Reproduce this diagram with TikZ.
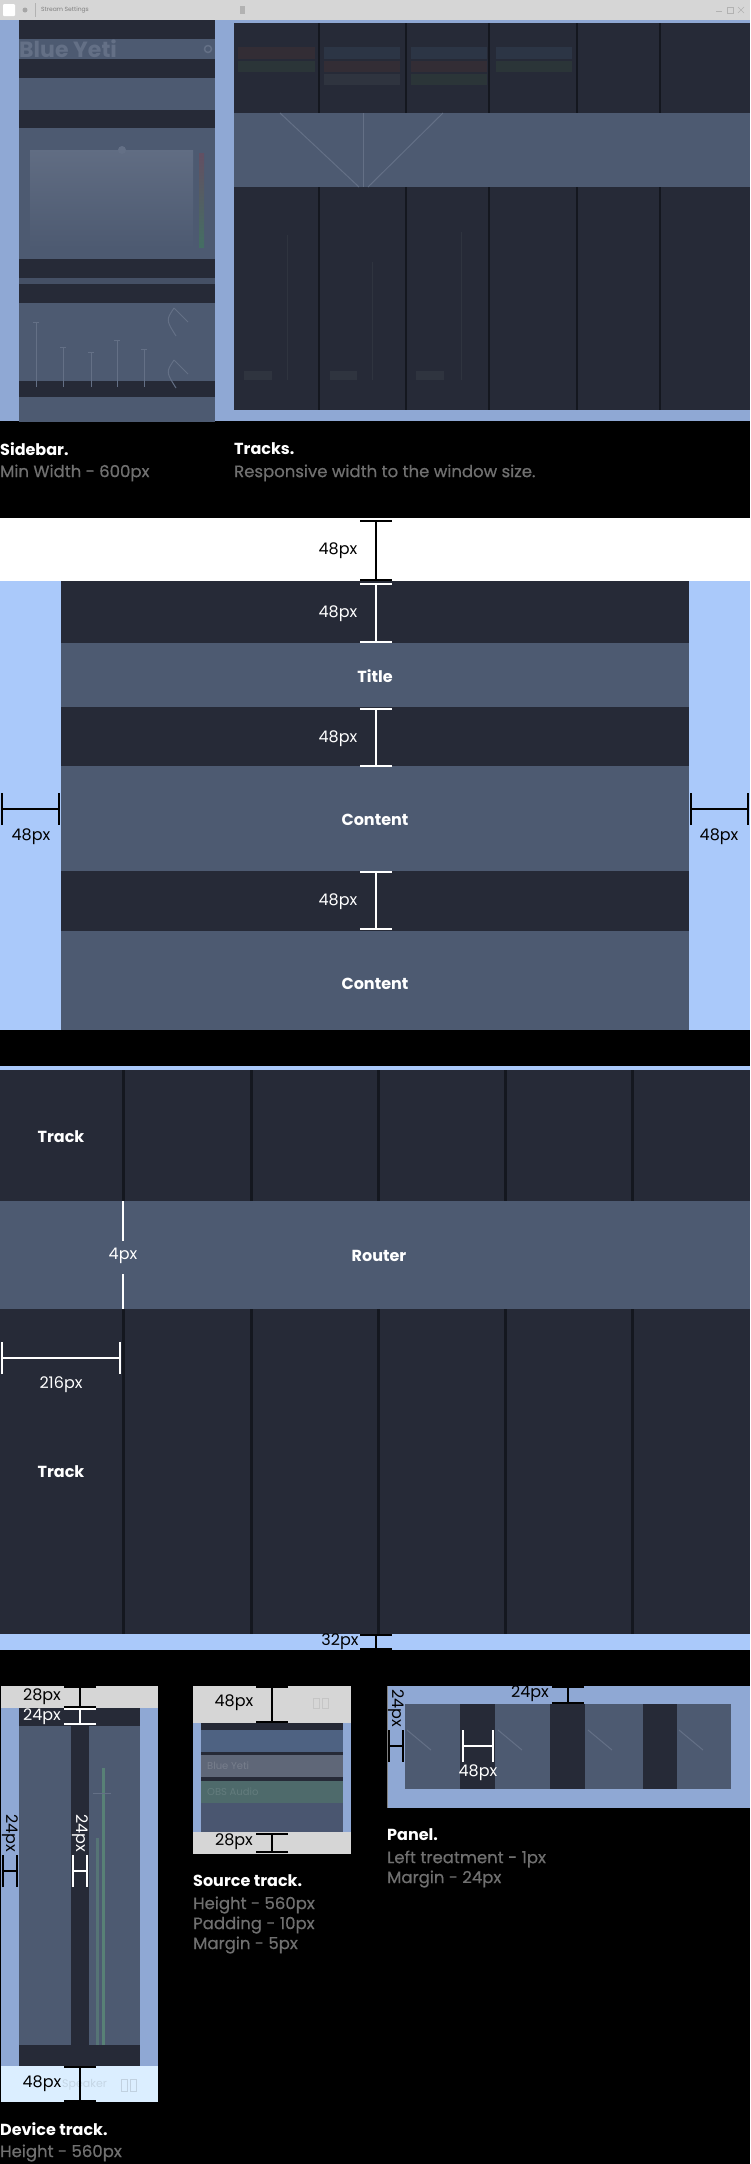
\documentclass[tikz,border=0pt]{standalone}
\usepackage{fontspec}
\setmainfont{Poppins}
\newfontfamily\capfont[FakeBold=0.6]{Poppins}
\usetikzlibrary{arrows.meta,positioning}

\definecolor{trackdark}{HTML}{262A37}
\definecolor{trackmid}{HTML}{4D5A71}
\definecolor{winblue}{HTML}{8FA8D4}
\definecolor{lightblue}{HTML}{AAC9FA}
\definecolor{titlegray}{HTML}{D6D6D6}
\definecolor{capgray}{HTML}{707070}
\definecolor{sepline}{HTML}{14171F}
\definecolor{palebottom}{HTML}{DBEEFF}
\definecolor{faintline}{HTML}{647086}
\definecolor{barred}{HTML}{332D35}
\definecolor{bargreen}{HTML}{2B3538}
\definecolor{barblue}{HTML}{2C3545}
\definecolor{bargray}{HTML}{2F343F}
\definecolor{rowblue}{HTML}{4E6282}
\definecolor{rowgray}{HTML}{5F6778}
\definecolor{rowgreen}{HTML}{4E6A6B}
\definecolor{rowbase}{HTML}{4A5670}

\tikzset{
  dimblack/.style={draw=black, line width=2pt, {Bar[width=32pt]}-{Bar[width=32pt]}},
  dimwhite/.style={dimblack, draw=white},
  dimtext/.style={font=\fontsize{16}{16}\selectfont, inner sep=0pt},
  boxlabel/.style={font=\fontsize{16}{16}\selectfont\bfseries, text=white, inner sep=0pt},
  headtext/.style={font=\fontsize{16}{16}\selectfont\bfseries, text=white, anchor=west, inner sep=0pt},
  captext/.style={font=\capfont\fontsize{16.5}{16.5}\selectfont, text=capgray, anchor=west, inner sep=0pt},
  faint/.style={draw=faintline, line width=1pt},
}

\begin{document}
\begin{tikzpicture}[x=1pt,y=-1pt]

   \fill[black] (0,0) rectangle (750,2164);
   \useasboundingbox (0,0) rectangle (750,2164);

   % window title bar
   \fill[titlegray] (0,0) rectangle (750,20);
   \fill[white, rounded corners=1pt] (3,4) rectangle (15,16);
   \fill[gray!70] (25,10) circle (2.5);
   \draw[gray!60, line width=0.6pt] (35,3) -- (35,17);
   \node[font=\fontsize{6}{6}\selectfont, text=gray, anchor=west, inner sep=0pt] (wintitle) at (41,10) {Stream Settings};
   \fill[gray!60] (240,6) rectangle (245,14);
   \draw[gray!60, line width=0.6pt] (716,11) -- (722,11);
   \draw[gray!60, line width=0.6pt] (727,7) rectangle (733,13);
   \draw[gray!60, line width=0.6pt] (738,7) -- (744,13) (738,13) -- (744,7);
   \fill[winblue] (0,20) rectangle (750,421);

   % sidebar
   \fill[trackdark] (19,20) rectangle (215,39);
   \fill[trackmid] (19,39) rectangle (215,59);
   \fill[trackdark] (19,59) rectangle (215,78);
   \fill[trackmid] (19,78) rectangle (215,110);
   \fill[trackdark] (19,110) rectangle (215,128);
   \fill[trackmid] (19,128) rectangle (215,259);
   \fill[trackdark] (19,259) rectangle (215,278);
   \fill[trackmid!80!trackdark] (19,278) rectangle (215,284);
   \fill[trackdark] (19,284) rectangle (215,303);
   \fill[trackmid] (19,303) rectangle (215,381);
   \fill[trackdark] (19,381) rectangle (215,397);
   \fill[trackmid] (19,397) rectangle (215,422);
   \node[font=\fontsize{22}{22}\selectfont\bfseries, text=faintline, anchor=west, inner sep=0pt] (devname) at (19,49) {Blue Yeti};
   \draw[faintline, line width=1.5pt] (208,49) circle (3.5);
   \shade[top color=faintline!85!trackmid, bottom color=trackmid] (30,150) rectangle (193,248);
   \shade[top color=red!12!trackmid, middle color=blue!12!trackmid, bottom color=green!12!trackmid] (199,153) rectangle (204,247);
   \fill[faintline] (122,150) circle (4);
   \draw[faint] (36,322) -- (36,387) (33,322) -- (39,322);
   \draw[faint] (63,347) -- (63,387) (60,347) -- (66,347);
   \draw[faint] (91,352) -- (91,387) (88,352) -- (94,352);
   \draw[faint] (117,340) -- (117,387) (114,340) -- (120,340);
   \draw[faint] (144,349) -- (144,387) (141,349) -- (147,349);
   \draw[faint] (174,308) .. controls (166,320) .. (176,336);
   \draw[faint] (174,308) -- (188,322);
   \draw[faint] (174,360) .. controls (166,372) .. (176,388);
   \draw[faint] (174,360) -- (188,374);

   % tracks in the window
   \fill[trackdark] (234,23) rectangle (750,113);
   \fill[trackmid] (234,113) rectangle (750,187);
   \fill[trackdark] (234,187) rectangle (750,410);
   \foreach \x in {319,406,489,577,660} {
     \draw[sepline, line width=1.5pt] (\x,23) -- (\x,113);
     \draw[sepline, line width=1.5pt] (\x,187) -- (\x,410);
   }
   \fill[barred] (238,47) rectangle (315,59);
   \fill[bargreen] (238,61) rectangle (315,72);
   \fill[barblue] (324,47) rectangle (400,59);
   \fill[barred] (324,61) rectangle (400,72);
   \fill[bargray] (324,74) rectangle (400,85);
   \fill[barblue] (411,47) rectangle (487,59);
   \fill[barred] (411,61) rectangle (487,72);
   \fill[bargreen] (411,74) rectangle (487,85);
   \fill[barblue] (496,47) rectangle (572,59);
   \fill[bargreen] (496,61) rectangle (572,72);
   \draw[faint] (280,113) -- (359,187);
   \draw[faint] (363,113) -- (363,187);
   \draw[faint] (443,113) -- (368,187);
   \draw[bargray, line width=1pt] (287,235) -- (287,380);
   \draw[bargray, line width=1pt] (372,262) -- (372,380);
   \draw[bargray, line width=1pt] (461,232) -- (461,380);
   \fill[bargray] (244,371) rectangle (272,380);
   \fill[bargray] (330,371) rectangle (357,380);
   \fill[bargray] (416,371) rectangle (444,380);

   \node[headtext] (sidebarhead) at (0,449) {Sidebar.};
   \node[captext] (sidebarcap) at (0,473) {Min Width - 600px};
   \node[headtext] (trackshead) at (234,449) {Tracks.};
   \node[captext] (trackscap) at (234,473) {Responsive width to the window size.};

   % panel layout
   \fill[white] (0,518) rectangle (750,581);
   \fill[lightblue] (0,581) rectangle (750,1030);
   \fill[trackdark] (61,581) rectangle (689,643);
   \fill[trackmid] (61,643) rectangle (689,707);
   \fill[trackdark] (61,707) rectangle (689,766);
   \fill[trackmid] (61,766) rectangle (689,871);
   \fill[trackdark] (61,871) rectangle (689,931);
   \fill[trackmid] (61,931) rectangle (689,1030);
   \node[boxlabel] (title) at (375,676) {Title};
   \node[boxlabel] (contentA) at (375,820) {Content};
   \node[boxlabel] (contentB) at (375,984) {Content};

   \coordinate (gapAtop) at (376,520);
   \coordinate (gapAbot) at (376,581);
   \draw[dimblack] (gapAtop) -- (gapAbot);
   \node[dimtext, text=black] (gapAlbl) at (338,551) {48px};
   \coordinate (gapBtop) at (376,583);
   \coordinate (gapBbot) at (376,643);
   \draw[dimwhite] (gapBtop) -- (gapBbot);
   \node[dimtext, text=white] (gapBlbl) at (338,614) {48px};
   \coordinate (gapCtop) at (376,708);
   \coordinate (gapCbot) at (376,767);
   \draw[dimwhite] (gapCtop) -- (gapCbot);
   \node[dimtext, text=white] (gapClbl) at (338,739) {48px};
   \coordinate (gapDtop) at (376,871);
   \coordinate (gapDbot) at (376,930);
   \draw[dimwhite] (gapDtop) -- (gapDbot);
   \node[dimtext, text=white] (gapDlbl) at (338,902) {48px};
   \coordinate (sideLa) at (1,809);
   \coordinate (sideLb) at (60,809);
   \draw[dimblack] (sideLa) -- (sideLb);
   \node[dimtext, text=black] (sideLlbl) at (31,837) {48px};
   \coordinate (sideRa) at (690,809);
   \coordinate (sideRb) at (749,809);
   \draw[dimblack] (sideRa) -- (sideRb);
   \node[dimtext, text=black] (sideRlbl) at (719,837) {48px};

   % track grid
   \fill[lightblue] (0,1066) rectangle (750,1070);
   \fill[trackdark] (0,1070) rectangle (750,1201);
   \fill[trackmid] (0,1201) rectangle (750,1309);
   \fill[trackdark] (0,1309) rectangle (750,1634);
   \foreach \x in {123,251,378,505,632} {
     \draw[sepline, line width=3pt] (\x,1070) -- (\x,1201);
     \draw[sepline, line width=3pt] (\x,1309) -- (\x,1634);
   }
   \fill[lightblue] (0,1634) rectangle (750,1650);
   \node[boxlabel] (trackA) at (61,1137) {Track};
   \node[boxlabel] (router) at (379,1256) {Router};
   \node[boxlabel] (trackB) at (61,1472) {Track};

   \node[dimtext, text=white] (gutterlbl) at (123,1256) {4px};
   \coordinate (guttertop) at (123,1201);
   \coordinate (gutterbot) at (123,1309);
   \draw[white, line width=2pt] (guttertop) -- (123,1241);
   \draw[white, line width=2pt] (123,1274) -- (gutterbot);
   \coordinate (widthA) at (1,1358);
   \coordinate (widthB) at (121,1358);
   \draw[dimwhite] (widthA) -- (widthB);
   \node[dimtext, text=white] (widthlbl) at (61,1385) {216px};
   \coordinate (bottomA) at (376,1634);
   \coordinate (bottomB) at (376,1650);
   \draw[dimblack] (bottomA) -- (bottomB);
   \node[dimtext, text=black] (bottomlbl) at (340,1642) {32px};

   % device track
   \fill[titlegray] (1,1686) rectangle (158,1708);
   \fill[winblue] (1,1708) rectangle (158,2066);
   \fill[trackmid] (19,1708) rectangle (140,2066);
   \fill[trackdark] (19,1708) rectangle (140,1726);
   \fill[trackdark] (19,2045) rectangle (140,2066);
   \fill[trackdark] (71,1708) rectangle (89,2066);
   \draw[green!12!faintline, line width=3pt] (103,1768) -- (103,2045);
   \draw[green!10!faintline!70!trackmid, line width=3pt] (97,1838) -- (97,2045);
   \draw[faint] (93,1793) -- (111,1793);
   \fill[palebottom] (1,2066) rectangle (158,2102);
   \node[font=\fontsize{11}{11}\selectfont, text=palebottom!90!black, anchor=west, inner sep=0pt] (devspeaker) at (62,2085) {Speaker};
   \draw[palebottom!88!black, line width=0.8pt] (121,2079) rectangle (127,2091);
   \draw[palebottom!88!black, line width=0.8pt] (130,2079) rectangle (136,2091);

   \coordinate (devtopA) at (80,1686);
   \coordinate (devtopB) at (80,1708);
   \draw[dimblack] (devtopA) -- (devtopB);
   \node[dimtext, text=black] (devtoplbl) at (42,1697) {28px};
   \coordinate (devheadA) at (80,1708);
   \coordinate (devheadB) at (80,1725);
   \draw[dimwhite] (devheadA) -- (devheadB);
   \node[dimtext, text=white] (devheadlbl) at (42,1717) {24px};
   \coordinate (devsideA) at (2,1871);
   \coordinate (devsideB) at (18,1871);
   \draw[dimblack] (devsideA) -- (devsideB);
   \node[dimtext, text=black, rotate=-90] (devsidelbl) at (10,1833) {24px};
   \coordinate (devgapA) at (72,1871);
   \coordinate (devgapB) at (88,1871);
   \draw[dimwhite] (devgapA) -- (devgapB);
   \node[dimtext, text=white, rotate=-90] (devgaplbl) at (80,1833) {24px};
   \coordinate (devbotA) at (80,2066);
   \coordinate (devbotB) at (80,2102);
   \draw[dimblack] (devbotA) -- (devbotB);
   \node[dimtext, text=black] (devbotlbl) at (42,2084) {48px};

   \node[headtext] (devicehead) at (0,2129) {Device track.};
   \node[captext] (devicecap) at (0,2153) {Height - 560px};

   % source track
   \fill[titlegray] (193,1686) rectangle (351,1723);
   \fill[winblue] (193,1723) rectangle (351,1832);
   \fill[titlegray] (193,1832) rectangle (351,1854);
   \fill[trackdark] (201,1723) rectangle (343,1803);
   \fill[rowblue] (201,1730) rectangle (343,1752);
   \fill[rowgray] (201,1755) rectangle (343,1777);
   \fill[rowgreen] (201,1781) rectangle (343,1803);
   \fill[rowbase] (201,1803) rectangle (343,1832);
   \node[font=\fontsize{10}{10}\selectfont, text=rowgray!85!white, anchor=west, inner sep=0pt] (srcB) at (207,1766) {Blue Yeti};
   \node[font=\fontsize{10}{10}\selectfont, text=rowgreen!88!white, anchor=west, inner sep=0pt] (srcC) at (207,1792) {OBS Audio};
   \draw[titlegray!92!black, line width=0.8pt] (313,1698) rectangle (319,1708);
   \draw[titlegray!92!black, line width=0.8pt] (322,1698) rectangle (328,1708);

   \coordinate (srctopA) at (272,1686);
   \coordinate (srctopB) at (272,1723);
   \draw[dimblack] (srctopA) -- (srctopB);
   \node[dimtext, text=black] (srctoplbl) at (234,1703) {48px};
   \coordinate (srcbotA) at (272,1833);
   \coordinate (srcbotB) at (272,1853);
   \draw[dimblack] (srcbotA) -- (srcbotB);
   \node[dimtext, text=black] (srcbotlbl) at (234,1842) {28px};

   \node[headtext] (sourcehead) at (193,1881) {Source track.};
   \node[captext] (sourcecapA) at (193,1905) {Height - 560px};
   \node[captext] (sourcecapB) at (193,1925) {Padding - 10px};
   \node[captext] (sourcecapC) at (193,1945) {Margin - 5px};

   % effects panel
   \fill[winblue] (387,1686) rectangle (750,1808);
   \draw[gray, line width=1pt] (387.5,1686) -- (387.5,1808);
   \fill[trackmid] (405,1704) rectangle (460,1789);
   \fill[trackdark] (460,1704) rectangle (495,1789);
   \fill[trackmid] (495,1704) rectangle (550,1789);
   \fill[trackdark] (550,1704) rectangle (585,1789);
   \fill[trackmid] (585,1704) rectangle (643,1789);
   \fill[trackdark] (643,1704) rectangle (677,1789);
   \fill[trackmid] (677,1704) rectangle (731,1789);
   \draw[faint] (407,1730) -- (431,1750);
   \draw[faint] (498,1730) -- (522,1750);
   \draw[faint] (588,1730) -- (612,1750);
   \draw[faint] (679,1730) -- (703,1750);

   \coordinate (paneltopA) at (568,1686);
   \coordinate (paneltopB) at (568,1704);
   \draw[dimblack] (paneltopA) -- (paneltopB);
   \node[dimtext, text=black] (paneltoplbl) at (530,1694) {24px};
   \coordinate (panelsideA) at (388,1746);
   \coordinate (panelsideB) at (404,1746);
   \draw[dimblack] (panelsideA) -- (panelsideB);
   \node[dimtext, text=black, rotate=-90] (panelsidelbl) at (396,1708) {24px};
   \coordinate (panelgapA) at (462,1746);
   \coordinate (panelgapB) at (494,1746);
   \draw[dimwhite] (panelgapA) -- (panelgapB);
   \node[dimtext, text=white] (panelgaplbl) at (478,1773) {48px};

   \node[headtext] (panelhead) at (387,1835) {Panel.};
   \node[captext] (panelcapA) at (387,1859) {Left treatment - 1px};
   \node[captext] (panelcapB) at (387,1879) {Margin - 24px};

\end{tikzpicture}
\end{document}
